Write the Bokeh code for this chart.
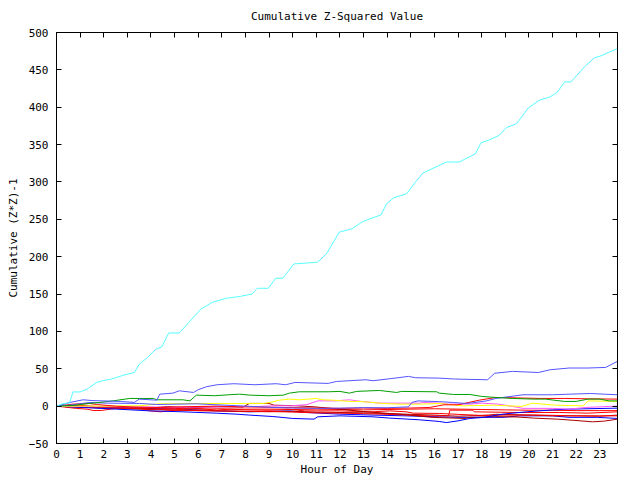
from bokeh.plotting import figure
from bokeh.models import FixedTicker, LinearAxis, Range1d, ColumnDataSource
from bokeh.embed import file_html
from bokeh.resources import INLINE

# ---------------- data ----------------
x_ticks = list(range(0, 24))
y_ticks = list(range(-50, 501, 50))

cyan_h = [0, 0.3, 0.55, 0.7, 1.0, 1.3, 1.7, 1.95, 2.3, 2.85, 3.3, 3.5, 3.85, 4.2, 4.45, 4.75, 5.2, 5.6, 6.12, 6.6,
          7.2, 7.8, 8.28, 8.5, 8.97, 9.28, 9.58, 10.05, 11.05, 11.43, 11.97, 12.51, 12.97, 13.74, 13.97, 14.28,
          14.82, 15.2, 15.51, 16.51, 17.05, 17.74, 17.97, 18.3, 18.74, 19.05, 19.48, 19.97, 20.43, 20.89, 21.2,
          21.51, 21.78, 22.35, 22.77, 23.05, 23.75]
cyan_v = [0, 3.6, 4, 19, 19, 22.8, 31.7, 34, 36, 41.5, 45, 56, 65, 76, 79, 97.9, 97.9, 112, 130, 139,
          144.3, 147, 150.1, 157.7, 157.7, 171.2, 171.2, 190.3, 192.6, 203.8, 232.8, 237.3, 247.1, 256, 270.8, 278.8,
          284.2, 300, 311.9, 326.7, 326.7, 337.8, 352.5, 356, 362.3, 372.7, 378, 399, 409.2, 413.8, 420,
          433.9, 433.9, 454, 466, 468.8, 478.6]

lblue1_h = [0, 0.56, 1.13, 1.5, 2.7, 3.3, 3.5, 4.25, 4.37, 4.93, 5.2, 5.8, 6.0, 6.35, 6.8, 7.5, 8.4, 9.3, 9.7, 10.1,
            11.5, 11.85, 13.1, 13.4, 14.2, 14.9, 15.2, 16.2, 16.9, 18.25, 18.55, 19.3, 20.4, 20.9, 21.7, 22.5,
            23.25, 23.75]
lblue1_v = [0, 4.9, 8.5, 7.5, 6.3, 5, 9.4, 8, 16, 17.4, 20.5, 18.3, 22, 26, 28.6, 30, 28.6, 30, 28.6, 31.7,
            30.4, 33, 35.3, 34, 37, 39.8, 38, 37.5, 36.2, 35.3, 44, 46.5, 45, 48.7, 51, 51, 51.8, 60]

green_h = [0, 0.7, 1.4, 1.8, 2.4, 3.1, 4.1, 4.25, 5.35, 5.65, 5.92, 6.7, 7.3, 7.75, 8.2, 9.0, 9.6, 9.86, 10.28, 11.5,
           12.0, 12.4, 12.7, 13.67, 14.4, 14.6, 16.1, 16.2, 16.8, 17.5, 18.0, 18.6, 19.3, 20.2, 20.7, 21.5, 22.0,
           22.5, 23.0, 23.4, 23.75]
green_v = [0, 0.9, 3.6, 4.9, 7.1, 10.3, 10.3, 8.5, 8.5, 7.1, 14.7, 13.9, 15.2, 16, 14.7, 13.9, 14.7, 17.4, 19.2, 19.2,
           19.7, 17.4, 19.7, 21, 18.3, 19.7, 19.2, 17.4, 15.6, 15.6, 13, 11.6, 10.3, 9.4, 9.4, 6.3, 6.3,
           9.4, 9.4, 7, 7]

lblue2_h = [0, 0.7, 1.4, 2.1, 3.5, 4.25, 5.9, 7.0, 8.0, 9.0, 10.0, 11.0, 12.0, 13.0, 14.0, 14.9, 15.05, 15.3, 16.2,
            16.8, 17.3, 17.5, 18.2, 18.6, 18.9, 19.45, 19.75, 21.0, 21.7, 22.6, 23.75]
lblue2_v = [0, 1.8, 4.9, 4, 3.6, 2.2, 3.1, 1.5, 0, -1.5, -2.5, -3, -2.7, -2, -2.2, -1, 5, 7, 6,
            4.9, 3.6, 4, 7, 10.3, 11.6, 13.9, 15.2, 15.2, 16, 16.9, 15.2]

yellow_h = [0, 2, 3.5, 4.37, 6, 7.9, 8.8, 9.16, 9.44, 9.86, 10.3, 11.0, 11.3, 11.7, 12.4, 12.8, 13.4, 13.8, 14.5,
            15.5, 16.2, 17.2, 18.5, 19.7, 20.15, 21.1, 22.3, 22.5, 23.75]
yellow_v = [0, 0, 0.5, 3.1, 3.6, 3.6, 3.6, 5.8, 8, 9.4, 8.5, 10.3, 8.5, 8, 6.3, 6.3, 4.9, 3.6, 2.7,
            2.7, 3.6, 0.4, 1.3, -0.4, 4, 1.3, 0.4, 7, 6.3]

magenta_h = [0, 1, 3, 5, 7, 8.5, 9.1, 9.9, 10.6, 11.06, 11.8, 12.4, 12.9, 13.7, 15.4, 15.5, 16.2, 16.6, 17.5, 18.0,
             18.7, 19.3, 19.75, 21.0, 21.7, 22.4, 23.4, 23.75]
magenta_v = [0, -0.5, -1, -1.5, -1, -0.5, 0.4, 0.4, 2, 7.1, 7, 8.5, 6.3, 4, 4, 4.9, 4, 2.7, 2.7, 4,
             2.7, -0.4, -3, -3, -4, -1.8, -0.4, 0]

red1_h = [0, 0.7, 1.4, 1.7, 2.5, 3.3, 4.4, 5.3, 6.8, 7.75, 9, 10, 11, 12, 13, 14, 15, 15.8, 16.4, 17.0, 17.9, 18.6,
          19.5, 20.5, 21.5, 22.5, 23.75]
red1_v = [0, 2.7, 3.6, 2.2, 0, -1.3, -1.8, -0.9, 0, -0.9, -1.5, -2, -2.5, -3, -2.5, -3, -2.5, -1.8, 1.8, 1.8, 8, 11.6,
          11, 10.3, 10.3, 9.8, 9.4]

red2_h = [0, 0.85, 1.3, 1.55, 1.9, 2.5, 2.8, 3.6, 3.95, 4.4, 4.8, 5.35, 6.0, 6.8, 7.3, 8, 9.8, 10.5, 11.97, 13.4,
          14.1, 14.8, 15.1, 16.2, 17.0, 18.0, 19.0, 20.5, 22.0, 23.0, 23.75]
red2_v = [0, -3.1, -4, -5.8, -5.8, -3, -1.8, -3.1, -6.3, -7.6, -6.3, -4, -3.1, -5.4, -4, -4, -4, -6.3, -6.3, -7.6,
          -6.3, -7.6, -9.4, -9.8, -11, -12.5, -12, -12, -13, -13, -13]

red3_h = [0, 1, 2, 3, 4, 5, 6, 7, 8, 9, 10, 11, 12, 13, 14, 15, 15.8, 16.6, 16.65, 17.6, 17.7, 19.5, 21.3, 22.5,
          23.75]
red3_v = [0, 1, -1, -2, -4, -5, -6, -6.3, -7, -7, -8, -9, -9.4, -10, -11, -12, -13, -13, -5.4, -5.4, -7.6, -8.5,
          -8.5, -9.4, -7.6]

red4_h = [0, 1, 2, 3, 4, 5, 6, 7, 8, 9, 10, 11, 12, 13, 14, 15, 16, 17, 18, 19, 20, 21, 22, 23, 23.75]
red4_v = [0, -1, -2.5, -3, -2.5, -3, -4, -3.5, -5, -5.5, -4.5, -4, -4.5, -5, -4.5, -4, -3.5, -4, -4.5, -5, -5.5,
          -5.5, -6, -6, -6]

blue1_h = [0, 1.13, 2.54, 3.95, 5.35, 6.76, 7.6, 8.17, 9.16, 10, 10.9, 11.06, 12, 13.4, 14.1, 15.36, 16.2, 16.5,
           17.0, 17.5, 18.1, 18.9, 19.9, 20.85, 21.7, 23.75]
blue1_v = [0, -1.8, -4, -6.3, -7.6, -9.4, -10.7, -12, -13.9, -16.5, -17.4, -14.3, -13, -14.3, -16, -18.3, -20.5, -22,
           -19.7, -16.5, -15, -10.7, -7.6, -5.4, -4, -2.7]

blue2_h = [0, 1, 3, 3.95, 5.35, 6.76, 8.17, 9.86, 10.6, 11.97, 13.4, 14.8, 16.2, 17, 18.9, 19.6, 21, 21.7, 22.9,
           23.75]
blue2_v = [0, -0.5, -2, -3.1, -4, -6.3, -7.6, -6.3, -8.5, -10.7, -12, -13, -14.3, -15, -15, -13, -13, -15, -15,
           -16.5]

dred1_h = [0, 1, 2, 3, 4, 4.7, 5.5, 6.8, 7.9, 8.17, 9.0, 9.2, 10.2, 10.9, 12, 13.1, 14.5, 15.9, 17.3, 17.5, 18.6,
           19.5, 20.2, 21.2, 21.9, 22.7, 23.2, 23.75]
dred1_v = [0, -0.5, -1, -2, -2.5, -0.5, -2.2, -0.9, -1.3, 3.6, 3.6, 1.3, 0.4, -0.9, -4, -7.6, -10.7, -15, -16.5,
           -15, -14, -14.5, -16, -17.4, -19, -21, -20, -17.4]

dred2_h = [0, 1, 2, 3, 4, 5, 6, 7, 8, 9, 10, 11, 12, 13, 14, 15, 16, 17, 18.3, 18.6, 19.5, 20.2, 21, 22, 23, 23.75]
dred2_v = [0, -1.5, -2.5, -3.5, -4.5, -5.5, -6, -6.5, -7, -7.5, -7, -8, -8.5, -9, -10, -11, -12, -13.5, -12, -11,
           -11.5, -12, -13, -13, -13.5, -12]

series = [
    (blue2_h, blue2_v, "#0000ff"),
    (dred2_h, dred2_v, "#a80000"),
    (red4_h, red4_v, "#ff0000"),
    (red3_h, red3_v, "#ff0000"),
    (red2_h, red2_v, "#ff0000"),
    (dred1_h, dred1_v, "#a80000"),
    (blue1_h, blue1_v, "#0000ff"),
    (magenta_h, magenta_v, "#ff55ff"),
    (yellow_h, yellow_v, "#ffff00"),
    (red1_h, red1_v, "#ff0000"),
    (lblue2_h, lblue2_v, "#5555ff"),
    (green_h, green_v, "#00a000"),
    (lblue1_h, lblue1_v, "#5555ff"),
    (cyan_h, cyan_v, "#55ffff"),
]

FONT = "DejaVu Sans Mono"

p = figure(width=632, height=478, output_backend="svg", toolbar_location=None,
           x_range=Range1d(0, 23.75), y_range=Range1d(-50, 500),
           min_border_left=56, min_border_right=15, min_border_top=32, min_border_bottom=29,
           title="Cumulative Z-Squared Value")
p.title.align = "center"
p.title.vertical_align = "middle"
p.title.text_font = FONT
p.title.text_font_size = "11px"
p.title.text_font_style = "normal"
p.title.text_color = "black"
p.title.standoff = 17

p.background_fill_color = "white"
p.border_fill_color = "white"
p.outline_line_color = "black"
p.outline_line_width = 1
p.grid.visible = False

for h, v, c in series:
    src = ColumnDataSource(dict(h=h, v=v))
    p.line("h", "v", source=src, line_color=c, line_width=1)

def style_axis(ax, ticks, show_labels):
    ax.ticker = FixedTicker(ticks=ticks)
    ax.major_tick_in = 5
    ax.major_tick_out = 0
    ax.minor_tick_in = 0
    ax.minor_tick_out = 0
    ax.axis_line_color = "black"
    ax.major_tick_line_color = "black"
    if show_labels:
        ax.major_label_text_font = FONT
        ax.major_label_text_font_size = "11px"
        ax.major_label_text_color = "black"
        ax.axis_label_text_font = FONT
        ax.axis_label_text_font_size = "11px"
        ax.axis_label_text_font_style = "normal"
        ax.axis_label_text_color = "black"
    else:
        ax.major_label_text_font_size = "0px"
        ax.major_label_text_color = None
        ax.major_label_standoff = 0

xa = p.xaxis[0]
ya = p.yaxis[0]
style_axis(xa, x_ticks, True)
style_axis(ya, y_ticks, True)
xa.axis_label = "Hour of Day"
ya.axis_label = "Cumulative (Z*Z)-1"
xa.major_label_standoff = 6
xa.axis_label_standoff = 2
ya.major_label_standoff = 8
ya.axis_label_standoff = 6

ra = LinearAxis()
style_axis(ra, y_ticks, False)
p.add_layout(ra, "right")
ta = LinearAxis()
style_axis(ta, x_ticks, False)
p.add_layout(ta, "above")

open("out.html", "w").write(file_html(p, INLINE))
